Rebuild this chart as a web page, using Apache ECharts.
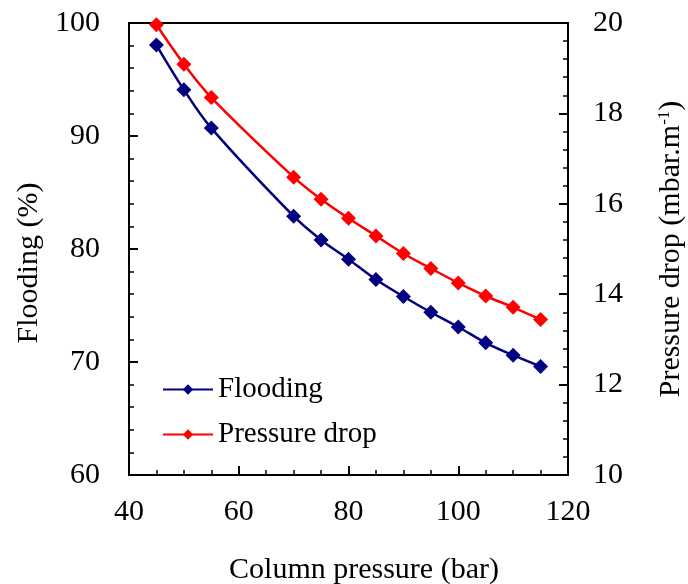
<!DOCTYPE html>
<html>
<head>
<meta charset="utf-8">
<script src="https://cdn.jsdelivr.net/npm/echarts@6/dist/echarts.min.js"></script>
<style>
  html, body { margin: 0; padding: 0; background: #fff; }
  #chart { width: 688px; height: 584px; }
</style>
</head>
<body>
<div id="chart"></div>
<script>
const pressure = [45, 50, 55, 70, 75, 80, 85, 90, 95, 100, 105, 110, 115];
const flooding = [98.05, 94.1, 90.7, 82.9, 80.8, 79.1, 77.3, 75.8, 74.4, 73.1, 71.7, 70.6, 69.6];
const pressureDrop = [19.96, 19.09, 18.35, 16.59, 16.1, 15.68, 15.29, 14.9, 14.57, 14.25, 13.96, 13.71, 13.44];

const font = "Liberation Serif";
const fs = 30;
const pairs = (ys) => pressure.map((x, i) => [x, ys[i]]);

const chart = echarts.init(document.getElementById("chart"));

const tickCommon = {
  axisLine: { show: true, lineStyle: { color: "#000", width: 2 } },
  axisTick: { show: true, inside: true, length: 9, lineStyle: { color: "#000", width: 2 } },
  minorTick: { show: true, length: 5, lineStyle: { color: "#000", width: 1.5 } },
  splitLine: { show: false },
  axisLabel: { color: "#000", fontFamily: font, fontSize: fs },
};

const option = {
  animation: false,
  grid: {
    left: 129, right: 120, top: 23, bottom: 109,
    outerBoundsMode: "none",
    show: true, borderColor: "#000", borderWidth: 2,
  },
  legend: {
    orient: "vertical",
    left: 157,
    top: 369,
    itemWidth: 50,
    itemHeight: 13,
    itemGap: 14,
    textStyle: { fontFamily: font, fontSize: 29, color: "#000", lineHeight: 31 },
    data: ["Flooding", "Pressure drop"],
  },
  xAxis: {
    type: "value",
    min: 40, max: 120, interval: 20,
    ...tickCommon,
    minorTick: { ...tickCommon.minorTick, splitNumber: 4 },
    axisLabel: { ...tickCommon.axisLabel, margin: 22 },
    name: "Column pressure (bar)",
    nameLocation: "middle",
    nameGap: 80,
    nameTextStyle: { fontFamily: font, fontSize: fs, color: "#000", padding: [0, 0, 0, 31] },
  },
  yAxis: [
    {
      type: "value",
      min: 60, max: 100, interval: 10,
      ...tickCommon,
      minorTick: { ...tickCommon.minorTick, splitNumber: 5 },
      axisLabel: { ...tickCommon.axisLabel, margin: 29 },
      name: "Flooding (%)",
      nameLocation: "middle",
      nameRotate: 90,
      nameGap: 76,
      nameTextStyle: { fontFamily: font, fontSize: fs, color: "#000", padding: [0, 28, 0, 0] },
    },
    {
      type: "value",
      min: 10, max: 20, interval: 2,
      position: "right",
      ...tickCommon,
      minorTick: { ...tickCommon.minorTick, splitNumber: 5 },
      axisLabel: { ...tickCommon.axisLabel, margin: 25 },
      name: "{a|Pressure drop (mbar.m}{s|-1}{a|)}",
      nameLocation: "middle",
      nameRotate: 90,
      nameGap: 88,
      nameTextStyle: {
        fontFamily: font, fontSize: fs, color: "#000",
        rich: {
          a: { fontFamily: font, fontSize: fs, color: "#000" },
          s: { fontFamily: font, fontSize: 17, color: "#000", verticalAlign: "top", padding: [0, 0, 12, 0] },
        },
      },
    },
  ],
  series: [
    {
      name: "Flooding",
      type: "line",
      yAxisIndex: 0,
      data: pairs(flooding),
      smooth: 0.35,
      symbol: "diamond",
      symbolSize: 15,
      lineStyle: { color: "#000080", width: 2.5 },
      itemStyle: { color: "#000080" },
    },
    {
      name: "Pressure drop",
      type: "line",
      yAxisIndex: 1,
      data: pairs(pressureDrop),
      smooth: 0.35,
      symbol: "diamond",
      symbolSize: 15,
      lineStyle: { color: "#FF0000", width: 2.5 },
      itemStyle: { color: "#FF0000" },
    },
  ],
};

chart.setOption(option);
</script>
</body>
</html>
